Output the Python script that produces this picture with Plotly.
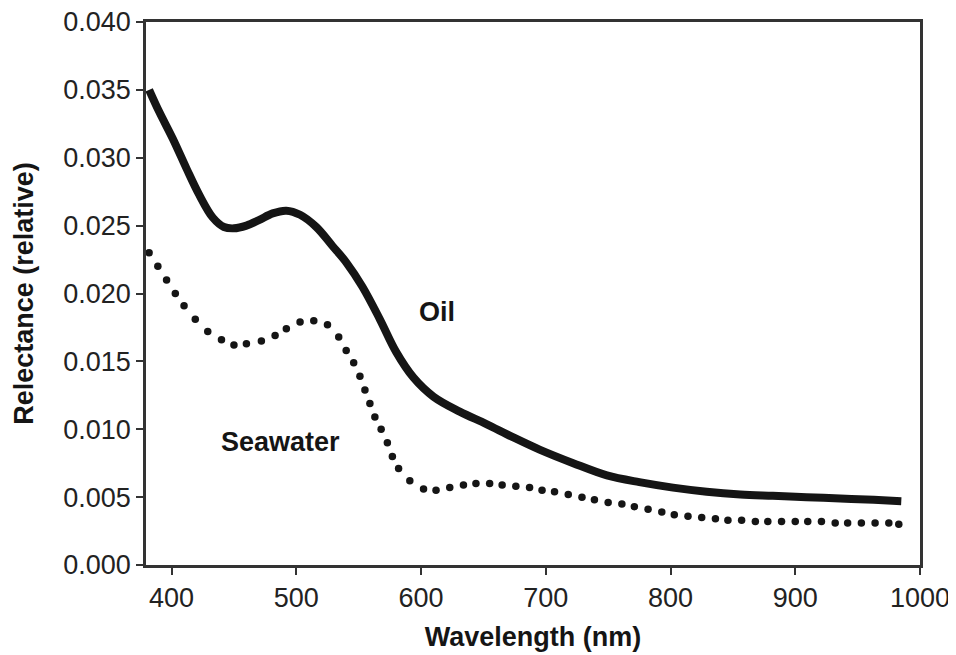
import plotly.graph_objects as go

# Oil reflectance (solid line)
oil_wavelength = [382, 390, 401, 412, 422, 433, 442, 450, 460, 470, 481, 492, 503, 516, 529,
                  540, 553, 567, 580, 594, 610, 631, 652, 674, 695, 722, 749, 775, 802,
                  829, 856, 882, 909, 936, 963, 985]
oil_reflectance = [0.0350, 0.0334, 0.0314, 0.0292, 0.0273, 0.0256, 0.0249, 0.0248, 0.0250,
                   0.0254, 0.0259, 0.0261, 0.0258, 0.0249, 0.0235, 0.0223, 0.0205, 0.0181,
                   0.0157, 0.0138, 0.0124, 0.0113, 0.0104, 0.0094, 0.0085, 0.0075, 0.0066,
                   0.0061, 0.0057, 0.0054, 0.0052, 0.0051, 0.0050, 0.0049, 0.0048, 0.0047]

# Seawater reflectance (dotted line, one value per dot)
sea_wavelength = [382, 389, 396, 403, 410, 419, 429, 440, 450, 460, 472, 483, 492, 503, 514,
                  525, 534, 540, 546, 551, 555, 559, 563, 568, 573, 577, 582, 591, 602, 612,
                  623, 634, 644, 655, 665, 676, 687, 697, 707, 718, 729, 739, 750, 761, 771,
                  782, 793, 803, 814, 825, 836, 846, 857, 868, 878, 889, 900, 910, 921, 932,
                  942, 953, 964, 975, 983]
sea_reflectance = [0.0230, 0.0220, 0.0210, 0.0200, 0.0191, 0.0181, 0.0172, 0.0166, 0.0162,
                   0.0163, 0.0165, 0.0169, 0.0174, 0.0179, 0.0180, 0.0177, 0.0168, 0.0158,
                   0.0149, 0.0139, 0.0129, 0.0119, 0.0109, 0.0100, 0.0090, 0.0080, 0.0071,
                   0.0062, 0.0056, 0.0055, 0.0057, 0.0059, 0.0060, 0.0060, 0.0059, 0.0058,
                   0.0057, 0.0055, 0.0054, 0.0052, 0.0050, 0.0048, 0.0046, 0.0045, 0.0043,
                   0.0041, 0.0039, 0.0037, 0.0036, 0.0035, 0.0034, 0.0033, 0.0033, 0.0032,
                   0.0032, 0.0032, 0.0032, 0.0032, 0.0032, 0.0031, 0.0031, 0.0031, 0.0031,
                   0.0031, 0.0030]

x_ticks = [400, 500, 600, 700, 800, 900, 1000]
y_ticks = [0.000, 0.005, 0.010, 0.015, 0.020, 0.025, 0.030, 0.035, 0.040]
y_tick_labels = ["0.000", "0.005", "0.010", "0.015", "0.020", "0.025", "0.030", "0.035", "0.040"]

labels = [("Oil", 613, 0.01865), ("Seawater", 487, 0.00904)]

ink = "#151515"
axis_col = "#333333"
font_family = "Liberation Sans, Arial, sans-serif"

fig = go.Figure()
fig.add_trace(go.Scatter(
    x=oil_wavelength, y=oil_reflectance, mode="lines",
    line=dict(color=ink, width=8, shape="spline", smoothing=1.0), name="Oil", showlegend=False))
fig.add_trace(go.Scatter(
    x=sea_wavelength, y=sea_reflectance, mode="markers",
    marker=dict(color=ink, size=7.5, line=dict(width=0)), name="Seawater", showlegend=False))

for text, lx, ly in labels:
    fig.add_annotation(x=lx, y=ly, text=f"<b>{text}</b>", showarrow=False,
                       xanchor="center", yanchor="middle",
                       font=dict(size=27, color=ink, family=font_family))

# page body adds an 8px offset, so the figure is 948x647
fig.update_layout(
    width=948, height=647,
    margin=dict(l=138, r=36, t=14, b=90),
    paper_bgcolor="white", plot_bgcolor="white",
    font=dict(family=font_family, color="#222222"),
)
fig.update_xaxes(
    range=[379.5, 1000], tickvals=x_ticks, ticktext=[str(v) for v in x_ticks],
    automargin=False, ticklabeloverflow="allow",
    showgrid=False, zeroline=False, showline=True, linecolor=axis_col, linewidth=2.5,
    mirror=True, ticks="outside", ticklen=7, tickwidth=2, tickcolor=axis_col,
    tickfont=dict(size=27, color="#222222"),
    title=dict(text="<b>Wavelength (nm)</b>", font=dict(size=27, color=ink)),
)
fig.update_yaxes(
    range=[0, 0.040], tickvals=y_ticks, ticktext=y_tick_labels,
    automargin=False, ticklabeloverflow="allow",
    showgrid=False, zeroline=False, showline=True, linecolor=axis_col, linewidth=2.5,
    mirror=True, ticks="outside", ticklen=7, tickwidth=2, tickcolor=axis_col,
    tickfont=dict(size=27, color="#222222"),
    title=dict(text="<b>Relectance (relative)</b>", font=dict(size=27, color=ink), standoff=22),
)

fig.write_html("out.html")
